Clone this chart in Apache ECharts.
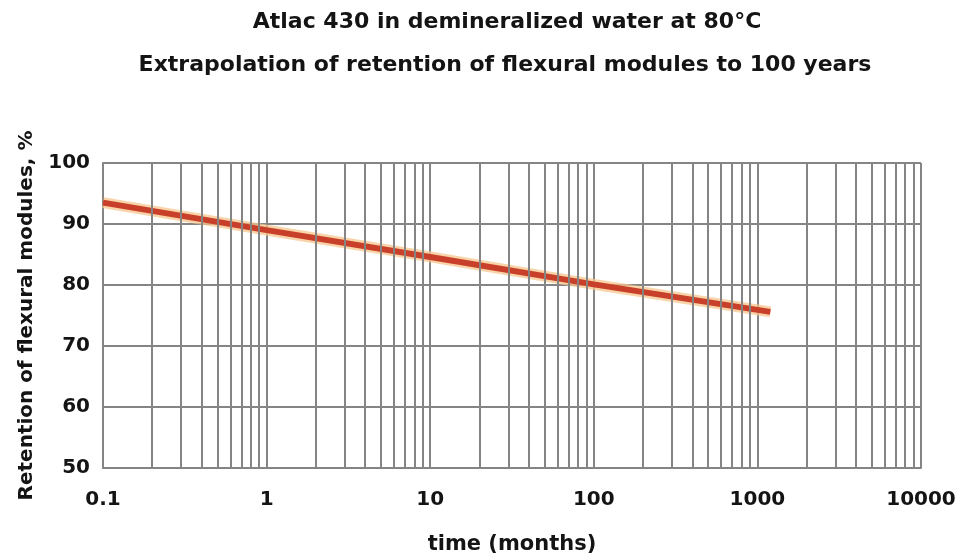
<!DOCTYPE html>
<html><head><meta charset="utf-8">
<script src="https://cdn.jsdelivr.net/npm/echarts@6/dist/echarts.min.js"></script>
<style>html,body{margin:0;padding:0;background:#fff}#c{width:964px;height:560px}</style>
</head><body><div id="c"></div><script>
const titleLine1 = 'Atlac 430 in demineralized water at 80°C';
const titleLine2 = 'Extrapolation of retention of flexural modules to 100 years';
const xName = 'time (months)';
const yName = 'Retention of flexural modules, %';
const timeMonths = [0.1, 1, 10, 100, 1200];
const retention = [93.5, 89.0, 84.6, 80.1, 75.6];
const xTicks = [0.1, 1, 10, 100, 1000, 10000];
const yTicks = [50, 60, 70, 80, 90, 100];
const minorMultipliers = [2, 3, 4, 5, 6, 7, 8, 9];

const decadeStarts = xTicks.slice(0, -1);
const minorGrid = [];
decadeStarts.forEach(d => minorMultipliers.forEach(m => minorGrid.push(+(d * m).toPrecision(3))));

const FONT = 'DejaVu Sans';
const GRID = '#858585';
const TXT = '#141414';
const lineData = timeMonths.map((t, i) => [t, retention[i]]);

const chart = echarts.init(document.getElementById('c'), null, {renderer: 'canvas'});
chart.setOption({
  backgroundColor: '#fff',
  animation: false,
  title: [
    {text: titleLine1, left: 502, top: 6, textAlign: 'center',
     textStyle: {fontFamily: FONT, fontWeight: 'bold', fontSize: 22, color: TXT}},
    {text: titleLine2, left: 500, top: 49, textAlign: 'center',
     textStyle: {fontFamily: FONT, fontWeight: 'bold', fontSize: 22, color: TXT}}
  ],
  grid: {left: 103, right: 43, top: 163, bottom: 89, show: false},
  xAxis: {
    type: 'log', logBase: 10, min: xTicks[0], max: xTicks[xTicks.length - 1],
    name: xName, nameLocation: 'middle', nameGap: 66,
    nameTextStyle: {fontFamily: FONT, fontWeight: 'bold', fontSize: 21, color: TXT},
    axisLine: {show: true, lineStyle: {color: GRID, width: 2}},
    axisTick: {show: false},
    axisLabel: {fontFamily: FONT, fontWeight: 'bold', fontSize: 20, color: TXT, margin: 22,
      formatter: v => String(+(+v).toPrecision(3))},
    splitLine: {show: true, lineStyle: {color: GRID, width: 2}}
  },
  yAxis: {
    type: 'value', min: yTicks[0], max: yTicks[yTicks.length - 1], interval: 10,
    name: yName, nameLocation: 'middle', nameGap: 66,
    nameTextStyle: {fontFamily: FONT, fontWeight: 'bold', fontSize: 20, color: TXT},
    axisLine: {show: true, lineStyle: {color: GRID, width: 2}},
    axisTick: {show: false},
    axisLabel: {fontFamily: FONT, fontWeight: 'bold', fontSize: 20, color: TXT, margin: 13},
    splitLine: {show: true, lineStyle: {color: GRID, width: 2}}
  },
  series: [
    {type: 'line', data: [], silent: true, z: 1,
     markLine: {silent: true, symbol: 'none', label: {show: false}, animation: false,
       lineStyle: {color: GRID, width: 2, type: 'solid'},
       data: minorGrid.map(v => ({xAxis: v}))}},
    {type: 'line', data: lineData, showSymbol: false, z: 3, silent: true,
     lineStyle: {color: '#f7c58c', width: 11, opacity: 0.75}},
    {type: 'line', data: lineData, showSymbol: false, z: 4, silent: true,
     lineStyle: {color: '#c9402a', width: 6}}
  ]
});
</script></body></html>
